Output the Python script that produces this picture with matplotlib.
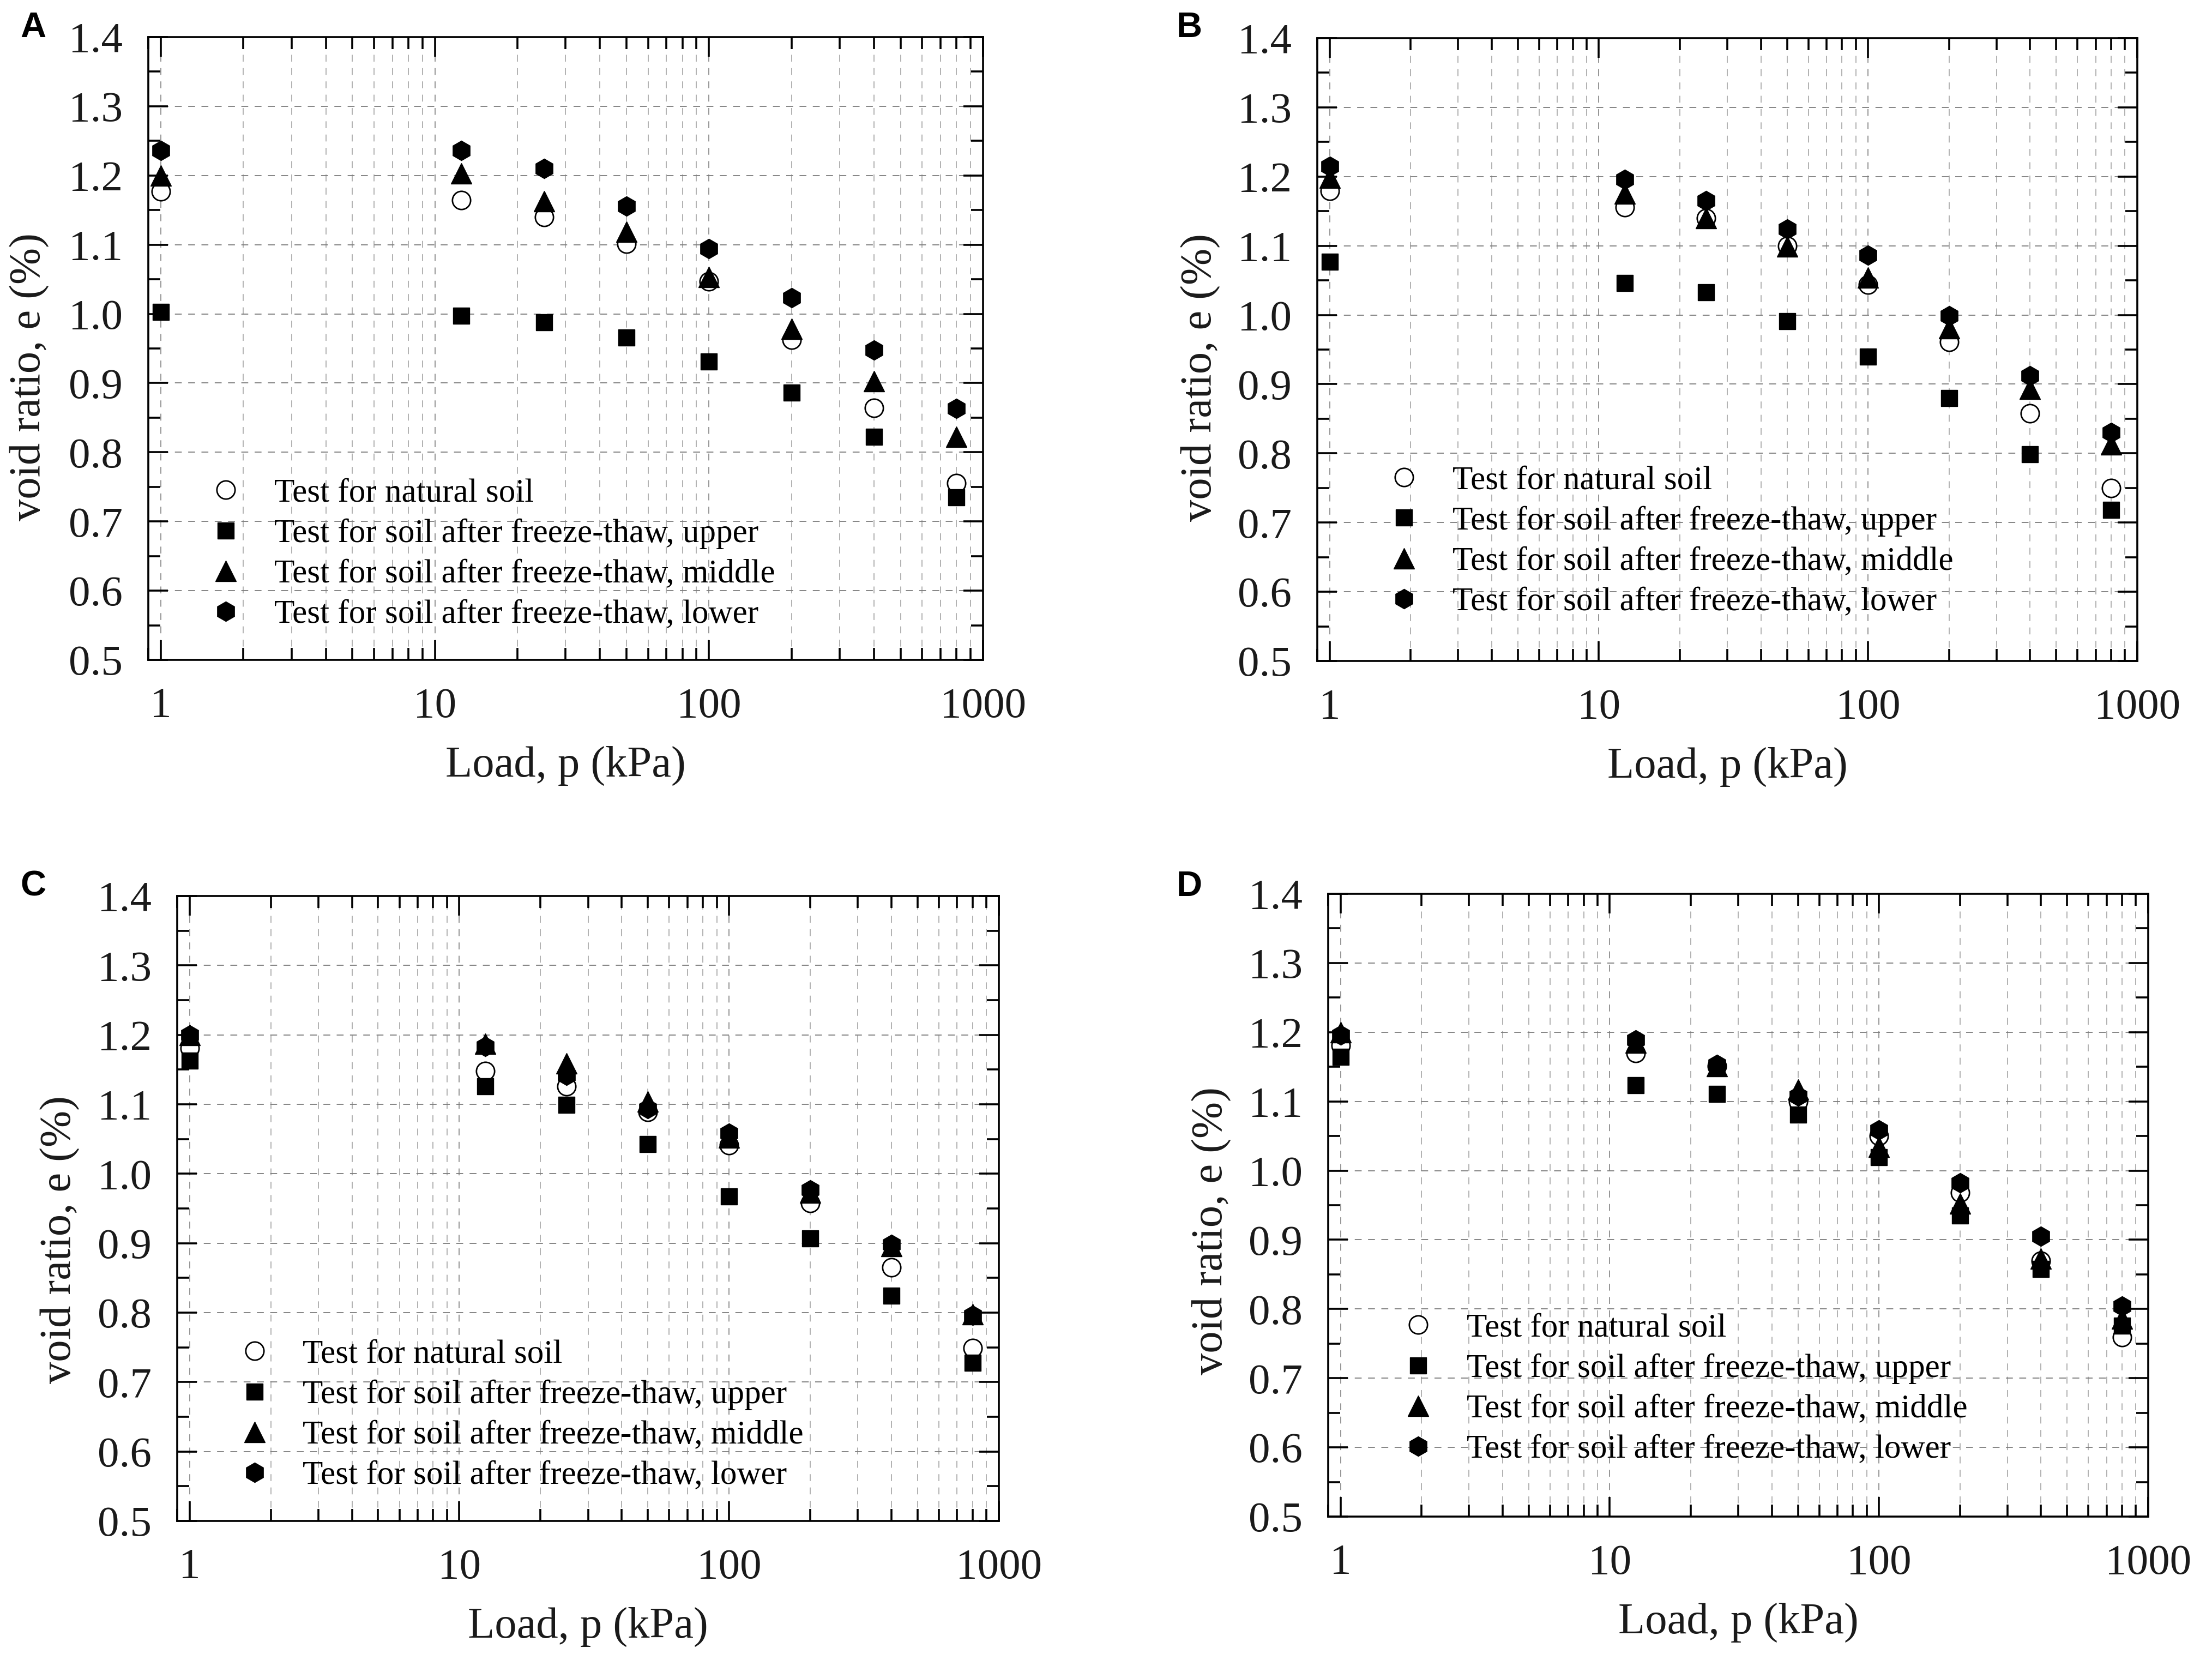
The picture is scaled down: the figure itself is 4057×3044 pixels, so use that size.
import numpy as np
import matplotlib
matplotlib.use("Agg")
import matplotlib.pyplot as plt
from matplotlib.ticker import MultipleLocator, LogLocator, NullFormatter

# ==============================================================================
# DATA
# ==============================================================================
loads = [1, 12.5, 25, 50, 100, 200, 400, 800]

series_names = ["Test for natural soil",
                "Test for soil after freeze-thaw, upper",
                "Test for soil after freeze-thaw, middle",
                "Test for soil after freeze-thaw, lower"]

# panel A
a_natural = [1.177, 1.164, 1.140, 1.101, 1.047, 0.963, 0.864, 0.755]
a_upper   = [1.003, 0.997, 0.988, 0.966, 0.931, 0.886, 0.822, 0.735]
a_middle  = [1.200, 1.203, 1.163, 1.119, 1.053, 0.978, 0.903, 0.822]
a_lower   = [1.236, 1.236, 1.210, 1.156, 1.094, 1.023, 0.948, 0.863]

# panel B
b_natural = [1.179, 1.156, 1.140, 1.100, 1.044, 0.961, 0.858, 0.750]
b_upper   = [1.077, 1.046, 1.033, 0.991, 0.940, 0.880, 0.799, 0.718]
b_middle  = [1.198, 1.175, 1.140, 1.099, 1.054, 0.981, 0.893, 0.813]
b_lower   = [1.215, 1.196, 1.165, 1.124, 1.086, 0.999, 0.912, 0.830]

# panel C
c_natural = [1.181, 1.148, 1.126, 1.089, 1.041, 0.958, 0.865, 0.749]
c_upper   = [1.163, 1.126, 1.099, 1.043, 0.967, 0.907, 0.824, 0.728]
c_middle  = [1.200, 1.187, 1.159, 1.104, 1.052, 0.973, 0.896, 0.798]
c_lower   = [1.200, 1.183, 1.142, 1.094, 1.058, 0.977, 0.898, 0.796]

# panel D
d_natural = [1.181, 1.170, 1.151, 1.100, 1.050, 0.968, 0.870, 0.759]
d_upper   = [1.164, 1.123, 1.111, 1.081, 1.019, 0.935, 0.858, 0.776]
d_middle  = [1.200, 1.185, 1.151, 1.117, 1.034, 0.952, 0.873, 0.786]
d_lower   = [1.196, 1.189, 1.153, 1.108, 1.059, 0.982, 0.905, 0.804]

panels = {
    "A": [a_natural, a_upper, a_middle, a_lower],
    "B": [b_natural, b_upper, b_middle, b_lower],
    "C": [c_natural, c_upper, c_middle, c_lower],
    "D": [d_natural, d_upper, d_middle, d_lower],
}

# ==============================================================================
# LAYOUT
# ==============================================================================
W, H = 4057, 3044
# axes boxes in pixels: left, top, right, bottom
boxes = {
    "A": (272, 68, 1803, 1210),
    "B": (2416, 70, 3920, 1212),
    "C": (325, 1643, 1832, 2789),
    "D": (2436, 1639, 3940, 2781),
}
# legend: marker x (axes frac), rows centre y (axes frac)
legend_pos = {
    "A": (0.093, 0.170),
    "B": (0.106, 0.192),
    "C": (0.094, 0.169),
    "D": (0.110, 0.205),
}
# y-label vertical centre (axes frac)
ylab_y = {"A": 0.454, "B": 0.455, "C": 0.450, "D": 0.459}
letter_pos = {"A": (61, 51), "B": (2181, 51), "C": (61, 1626), "D": (2181, 1626)}

styles = [
    dict(marker="o", mfc="white", mec="black", ms=24, mew=2.0),
    dict(marker="s", mfc="black", mec="black", ms=22, mew=1.0),
    dict(marker="^", mfc="black", mec="black", ms=28, mew=1.0),
    dict(marker="h", mfc="black", mec="black", ms=26, mew=1.0),
]

serif = "Liberation Serif"
fs_leg = 44
fig = plt.figure(figsize=(W / 100, H / 100), dpi=100)

for key, data in panels.items():
    l, t, r, b = boxes[key]
    ax = fig.add_axes([l / W, 1 - b / H, (r - l) / W, (b - t) / H])

    for vals, name, st in zip(data, series_names, styles):
        ax.plot(loads, vals, ls="none", label=name, **st)

    ax.set_xscale("log")
    ax.set_xlim(0.9, 1000)
    ax.set_ylim(0.5, 1.4)
    ax.set_xticks([1, 10, 100, 1000])
    ax.set_xticklabels(["1", "10", "100", "1000"])
    ax.xaxis.set_minor_locator(LogLocator(base=10, subs=np.arange(2, 10)))
    ax.xaxis.set_minor_formatter(NullFormatter())
    ax.yaxis.set_major_locator(MultipleLocator(0.1))
    ax.yaxis.set_minor_locator(MultipleLocator(0.05))
    ax.set_yticklabels([f"{v:.1f}" for v in ax.get_yticks()])

    ax.grid(True, which="major", axis="y", ls=(0, (7, 6.5)), color="#7c7c7c", lw=1.3)
    ax.grid(True, which="major", axis="x", ls=(0, (7, 6.5)), color="#8c8c8c", lw=1.3)
    ax.grid(True, which="minor", axis="x", ls=(0, (7, 6.5)), color="#ababab", lw=1.3)
    ax.set_axisbelow(True)

    ax.tick_params(which="both", direction="in", top=True, right=True,
                   colors="black", width=2.6)
    ax.tick_params(which="major", length=26)
    ax.tick_params(which="minor", length=16)
    ax.tick_params(axis="x", which="major", pad=36)
    ax.tick_params(axis="y", which="major", pad=34)
    for lab in ax.get_xticklabels() + ax.get_yticklabels():
        lab.set_fontfamily(serif)
        lab.set_fontsize(57)
        lab.set_color("#1a1a1a")
    for sp in ax.spines.values():
        sp.set_linewidth(2.6)

    ax.set_xlabel("Load, p (kPa)", fontfamily=serif, fontsize=58, labelpad=26,
                  color="#1a1a1a")
    ax.set_ylabel("void ratio, e (%)", fontfamily=serif, fontsize=58,
                  color="#1a1a1a")
    ax.yaxis.set_label_coords(-0.118, ylab_y[key])

    mx, my = legend_pos[key]
    half_handle = 0.5 * fs_leg * 100 / 72 / (r - l)
    ax.legend(loc="center left", bbox_to_anchor=(mx - half_handle, my),
              frameon=False, numpoints=1, handlelength=1.0, handletextpad=0.95,
              labelspacing=0.3, borderpad=0, borderaxespad=0,
              prop={"family": serif, "size": fs_leg})

    lx, ly = letter_pos[key]
    fig.text(lx / W, 1 - ly / H, key, fontfamily="Liberation Sans",
             fontweight="bold", fontsize=47, ha="center", va="center")

fig.savefig("out.png", dpi=100, facecolor="white")
